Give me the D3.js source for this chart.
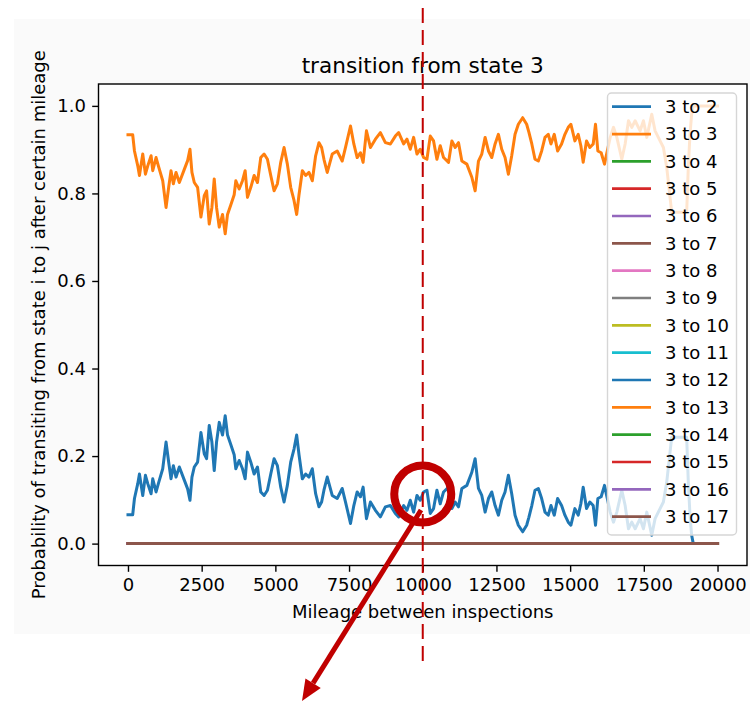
<!DOCTYPE html>
<html>
<head>
<meta charset="utf-8">
<script src="https://cdn.jsdelivr.net/npm/d3@7/dist/d3.min.js"></script>
<style>
  html, body { margin: 0; padding: 0; background: #ffffff; }
  svg { display: block; }
  text { font-family: "DejaVu Sans", sans-serif; fill: #000; }
</style>
</head>
<body>
<svg id="chart" width="750" height="706"></svg>
<script>
// Mileage between inspections (x positions of the sampled curve)
const mileage = [
  0, 160, 220, 332, 389, 501, 592, 671, 784, 840, 953, 1043, 1179, 1291, 1381, 1460, 1539, 1630, 1742, 1911,
  2024, 2103, 2170, 2249, 2362, 2475, 2588, 2667, 2757, 2847, 2926, 3005, 3096, 3208, 3298, 3377, 3490, 3603, 3659, 3772,
  3885, 3975, 4054, 4167, 4280, 4393, 4505, 4618, 4731, 4844, 4956, 5069, 5182, 5295, 5407, 5520, 5633, 5723, 5802, 5915,
  6028, 6140, 6253, 6366, 6479, 6569, 6648, 6760, 6929, 7098, 7267, 7380, 7549, 7662, 7775, 7887, 7977, 8090, 8225, 8394,
  8563, 8732, 8902, 9071, 9183, 9352, 9465, 9578, 9690, 9803, 9916, 10029, 10142, 10255, 10367, 10480, 10593, 10706, 10875, 10988,
  11101, 11214, 11326, 11496, 11665, 11777, 11890, 12003, 12116, 12229, 12341, 12454, 12567, 12680, 12792, 12905, 13018, 13131, 13243, 13390,
  13525, 13600, 13700, 13808, 13921, 14034, 14147, 14259, 14349, 14462, 14575, 14710, 14823, 14936, 15026, 15161, 15274, 15364, 15443, 15556,
  15669, 15782, 15861, 15940, 16053, 16166, 16359, 16471, 16584, 16753, 16866, 16979, 17092, 17205, 17374, 17487, 17600, 17769, 17882, 18051,
  18164, 18276, 18389, 18445, 18953, 19009, 19066, 19122, 19178, 20000
];

// Probability 3 -> 3 (staying in state 3)
const stay3 = [
  0.934, 0.934, 0.897, 0.863, 0.841, 0.890, 0.844, 0.863, 0.886, 0.852, 0.882, 0.860, 0.829, 0.768, 0.814, 0.852, 0.822, 0.848, 0.825, 0.855,
  0.875, 0.901, 0.848, 0.825, 0.814, 0.746, 0.795, 0.806, 0.730, 0.768, 0.833, 0.768, 0.723, 0.752, 0.708, 0.752, 0.774, 0.797, 0.829, 0.810,
  0.829, 0.852, 0.791, 0.814, 0.841, 0.825, 0.882, 0.890, 0.878, 0.841, 0.806, 0.822, 0.871, 0.905, 0.867, 0.814, 0.784, 0.752, 0.797, 0.852,
  0.841, 0.848, 0.829, 0.886, 0.916, 0.905, 0.878, 0.848, 0.890, 0.897, 0.874, 0.905, 0.954, 0.913, 0.882, 0.893, 0.871, 0.943, 0.905, 0.924,
  0.939, 0.916, 0.913, 0.931, 0.939, 0.913, 0.924, 0.901, 0.928, 0.890, 0.901, 0.882, 0.878, 0.931, 0.920, 0.878, 0.909, 0.882, 0.871, 0.920,
  0.905, 0.916, 0.874, 0.867, 0.837, 0.806, 0.874, 0.890, 0.928, 0.897, 0.882, 0.913, 0.935, 0.901, 0.882, 0.844, 0.886, 0.935, 0.958, 0.973,
  0.958, 0.940, 0.913, 0.878, 0.874, 0.897, 0.928, 0.935, 0.913, 0.935, 0.897, 0.913, 0.935, 0.951, 0.958, 0.920, 0.935, 0.909, 0.871, 0.920,
  0.905, 0.913, 0.958, 0.897, 0.893, 0.867, 0.928, 0.951, 0.928, 0.878, 0.913, 0.966, 0.951, 0.966, 0.943, 0.966, 0.928, 0.981, 0.943, 0.920,
  0.905, 0.860, 0.791, 0.757, 0.757, 0.860, 0.935, 0.981, 1.000, 1.000
];

// Probability 3 -> 2
const to2 = [
  0.066, 0.066, 0.103, 0.137, 0.159, 0.110, 0.156, 0.137, 0.114, 0.148, 0.118, 0.140, 0.171, 0.232, 0.186, 0.148, 0.178, 0.152, 0.175, 0.145,
  0.125, 0.099, 0.152, 0.175, 0.186, 0.254, 0.205, 0.194, 0.270, 0.232, 0.167, 0.232, 0.277, 0.248, 0.292, 0.248, 0.226, 0.203, 0.171, 0.190,
  0.171, 0.148, 0.209, 0.186, 0.159, 0.175, 0.118, 0.110, 0.122, 0.159, 0.194, 0.178, 0.129, 0.095, 0.133, 0.186, 0.216, 0.248, 0.203, 0.148,
  0.159, 0.152, 0.171, 0.114, 0.084, 0.095, 0.122, 0.152, 0.110, 0.103, 0.126, 0.095, 0.046, 0.087, 0.118, 0.107, 0.129, 0.057, 0.095, 0.076,
  0.061, 0.084, 0.087, 0.069, 0.061, 0.087, 0.076, 0.099, 0.072, 0.110, 0.099, 0.118, 0.122, 0.069, 0.080, 0.122, 0.091, 0.118, 0.129, 0.080,
  0.095, 0.084, 0.126, 0.133, 0.163, 0.194, 0.126, 0.110, 0.072, 0.103, 0.118, 0.087, 0.065, 0.099, 0.118, 0.156, 0.114, 0.065, 0.042, 0.027,
  0.042, 0.060, 0.087, 0.122, 0.126, 0.103, 0.072, 0.065, 0.087, 0.065, 0.103, 0.087, 0.065, 0.049, 0.042, 0.080, 0.065, 0.091, 0.129, 0.080,
  0.095, 0.087, 0.042, 0.103, 0.107, 0.133, 0.072, 0.049, 0.072, 0.122, 0.087, 0.034, 0.049, 0.034, 0.057, 0.034, 0.072, 0.019, 0.057, 0.080,
  0.095, 0.140, 0.209, 0.243, 0.243, 0.140, 0.065, 0.019, 0.000, 0.000
];

// Transitions that stay at zero over the whole mileage range
const zeroMileage = [0, 20000];
const zeroValues = [0, 0];

const targetStates = [2, 3, 4, 5, 6, 7, 8, 9, 10, 11, 12, 13, 14, 15, 16, 17];
const seriesLabels = targetStates.map(s => "3 to " + s);
const palette = ["#1f77b4", "#ff7f0e", "#2ca02c", "#d62728", "#9467bd",
                 "#8c564b", "#e377c2", "#7f7f7f", "#bcbd22", "#17becf"];

const xTicks = [0, 2500, 5000, 7500, 10000, 12500, 15000, 17500, 20000];
const yTicks = [0.0, 0.2, 0.4, 0.6, 0.8, 1.0];

const titleText = "transition from state 3";
const xLabel = "Mileage between inspections";
const yLabel = "Probability of transiting from state i to j after certain mileage";

// Highlighted mileage
const markMileage = 10000;

// ---- build series table ----
const series = seriesLabels.map((label, i) => {
  let xs = zeroMileage, ys = zeroValues;
  if (i === 0) { xs = mileage; ys = to2; }
  if (i === 1) { xs = mileage; ys = stay3; }
  return { label, color: palette[i % palette.length], points: xs.map((m, k) => [m, ys[k]]) };
});

// ---- layout ----
const svg = d3.select("#chart");
const plot = { left: 98.5, right: 747, top: 84, bottom: 565.5 };

svg.append("rect").attr("x", 14).attr("y", 19).attr("width", 736).attr("height", 615)
  .attr("fill", "#fafafa");
svg.append("rect").attr("x", plot.left).attr("y", plot.top)
  .attr("width", plot.right - plot.left).attr("height", plot.bottom - plot.top)
  .attr("fill", "#ffffff");

const x = d3.scaleLinear().domain([-1000, 21000]).range([plot.left, plot.right]);
const y = d3.scaleLinear().domain([-0.05, 1.05]).range([plot.bottom, plot.top]);

// clip to the axes area
svg.append("defs").append("clipPath").attr("id", "clip")
  .append("rect").attr("x", plot.left).attr("y", plot.top)
  .attr("width", plot.right - plot.left).attr("height", plot.bottom - plot.top);

const line = d3.line().x(d => x(d[0])).y(d => y(d[1]));

const lines = svg.append("g").attr("clip-path", "url(#clip)");
lines.selectAll("path").data(series).join("path")
  .attr("d", d => line(d.points))
  .attr("fill", "none")
  .attr("stroke", d => d.color)
  .attr("stroke-width", 3)
  .attr("stroke-linejoin", "round")
  .attr("stroke-linecap", "square");

// ---- axes ----
const fs = 18;
const xAxis = d3.axisBottom(x).tickValues(xTicks).tickFormat(d3.format("d"))
  .tickSize(6.3).tickPadding(6.3);
const gx = svg.append("g").attr("transform", `translate(0,${plot.bottom})`).call(xAxis);
const yAxis = d3.axisLeft(y).tickValues(yTicks).tickFormat(d3.format(".1f"))
  .tickSize(6.3).tickPadding(6.3);
const gy = svg.append("g").attr("transform", `translate(${plot.left},0)`).call(yAxis);
[gx, gy].forEach(g => {
  g.select(".domain").remove();
  g.selectAll(".tick line").attr("stroke", "#000").attr("stroke-width", 1.4);
  g.selectAll(".tick text").attr("font-size", fs).attr("font-family", "DejaVu Sans").attr("fill", "#000");
});

// spines
svg.append("rect").attr("x", plot.left).attr("y", plot.top)
  .attr("width", plot.right - plot.left).attr("height", plot.bottom - plot.top)
  .attr("fill", "none").attr("stroke", "#000").attr("stroke-width", 1.4);

// title and axis labels
svg.append("text").attr("x", (plot.left + plot.right) / 2).attr("y", 73)
  .attr("text-anchor", "middle").attr("font-size", 21.6).text(titleText);
svg.append("text").attr("x", (plot.left + plot.right) / 2).attr("y", 618)
  .attr("text-anchor", "middle").attr("font-size", fs).text(xLabel);
svg.append("text").attr("transform", `translate(45,${(plot.top + plot.bottom) / 2}) rotate(-90)`)
  .attr("text-anchor", "middle").attr("font-size", fs).text(yLabel);

// ---- legend ----
const legend = svg.append("g");
const lg = { x: 607.5, y: 93, w: 129, h: 442, row0: 106.7, step: 27.33 };
legend.append("rect").attr("x", lg.x).attr("y", lg.y).attr("width", lg.w).attr("height", lg.h)
  .attr("rx", 4).attr("fill", "#ffffff").attr("fill-opacity", 0.8)
  .attr("stroke", "#d6d6d6").attr("stroke-width", 1.4);
const rows = legend.selectAll("g.row").data(series).join("g").attr("class", "row")
  .attr("transform", (d, i) => `translate(0,${lg.row0 + i * lg.step})`);
rows.append("line").attr("x1", 612).attr("x2", 651).attr("y1", 0).attr("y2", 0)
  .attr("stroke", d => d.color).attr("stroke-width", 2.7);
rows.append("text").attr("x", 665).attr("y", 0).attr("dy", "0.35em")
  .attr("font-size", fs).text(d => d.label);

// ---- highlight: dashed marker, circle and arrow ----
const red = "#c00000";
const mx = x(markMileage);
svg.append("line").attr("x1", mx).attr("x2", mx).attr("y1", 8).attr("y2", 668)
  .attr("stroke", red).attr("stroke-width", 2).attr("stroke-dasharray", "15,7");
svg.append("circle").attr("cx", mx).attr("cy", 494).attr("r", 28.5)
  .attr("fill", "none").attr("stroke", red).attr("stroke-width", 8);

const tip = [302, 701], start = [421, 510];
const ang = Math.atan2(tip[1] - start[1], tip[0] - start[0]);
const headLen = 21, headHalf = 9;
const base = [tip[0] - headLen * Math.cos(ang), tip[1] - headLen * Math.sin(ang)];
svg.append("line").attr("x1", start[0]).attr("y1", start[1]).attr("x2", base[0]).attr("y2", base[1])
  .attr("stroke", red).attr("stroke-width", 5);
svg.append("path").attr("fill", red).attr("d", d3.line()([
  tip,
  [base[0] + headHalf * Math.sin(ang), base[1] - headHalf * Math.cos(ang)],
  [base[0] - headHalf * Math.sin(ang), base[1] + headHalf * Math.cos(ang)]
]) + "Z");
</script>
</body>
</html>
